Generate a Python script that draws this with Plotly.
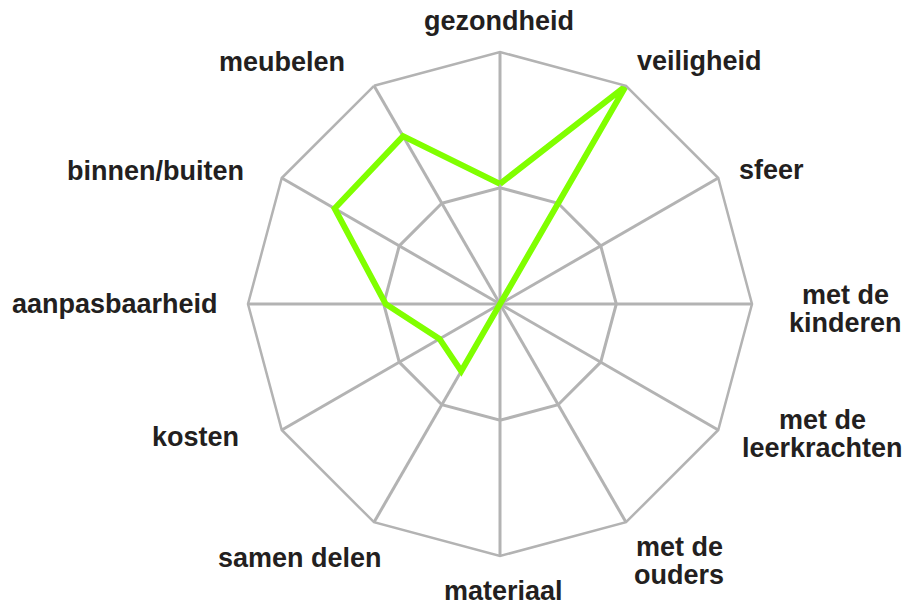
import numpy as np
import plotly.graph_objects as go

# ---- data ----
categories = ["gezondheid", "veiligheid", "sfeer", "met de<br>kinderen",
              "met de<br>leerkrachten", "met de<br>ouders", "materiaal",
              "samen delen", "kosten", "aanpasbaarheid", "binnen/buiten", "meubelen"]
scores = [6.2, 13, 0, 0, 0, 0, 0, 4.0, 3.6, 5.9, 9.85, 10.0]
radial_max = 13
ring_values = [6]

# ---- label placement (anchor and pixel shifts relative to the outer vertex) ----
label_xanchor = ["center", "left", "left", "center", "center", "center",
                 "center", "right", "right", "right", "right", "right"]
label_xshift = [-1, 9, 19, 93, 104, 53, 3, 10, -41, -28, -36, -27]
label_yshift = [31, 25, 8, 9, 10, -25, -35, -36, -7, 0, 7, 24]  # first line
line_step = 28

W, H = 920, 602
page_off = 8                      # default body margin of the html page
cx, cy, R = 500 - page_off, 304 - page_off, 252

dom_x = [(cx - R) / W, (cx + R) / W]
dom_y = [(H - cy - R) / H, (H - cy + R) / H]

grid_col = "#b3b3b3"
text_col = "#231f20"

fig = go.Figure()
fig.add_trace(go.Scatterpolar(
    r=scores + scores[:1],
    theta=categories + categories[:1],
    mode="lines",
    line=dict(color="#80ff00", width=6),
    hoverinfo="skip",
))

fig.update_layout(
    width=W, height=H,
    margin=dict(l=0, r=0, t=0, b=0),
    paper_bgcolor="white",
    showlegend=False,
    polar=dict(
        domain=dict(x=dom_x, y=dom_y),
        bgcolor="white",
        gridshape="linear",
        radialaxis=dict(range=[0, radial_max], tickvals=ring_values,
                        showticklabels=False, ticks="", showline=False,
                        gridcolor=grid_col, gridwidth=2.5),
        angularaxis=dict(direction="clockwise", rotation=90,
                         showticklabels=False, ticks="",
                         showline=True, linecolor=grid_col, linewidth=2.5,
                         gridcolor=grid_col, gridwidth=2.5),
    ),
)

n = len(categories)
for i, lab in enumerate(categories):
    th = np.deg2rad(360.0 * i / n)
    px = cx + R * np.sin(th)
    py = cy - R * np.cos(th)
    for k, line in enumerate(lab.split("<br>")):
        fig.add_annotation(
            x=px / W, y=1 - py / H, xref="paper", yref="paper",
            text=line, showarrow=False, align="center",
            xanchor=label_xanchor[i], yanchor="middle",
            xshift=label_xshift[i], yshift=label_yshift[i] - k * line_step,
            font=dict(family="Liberation Sans, Arial, sans-serif", size=27,
                      color=text_col, weight="bold"),
        )

fig.write_html("out.html")
